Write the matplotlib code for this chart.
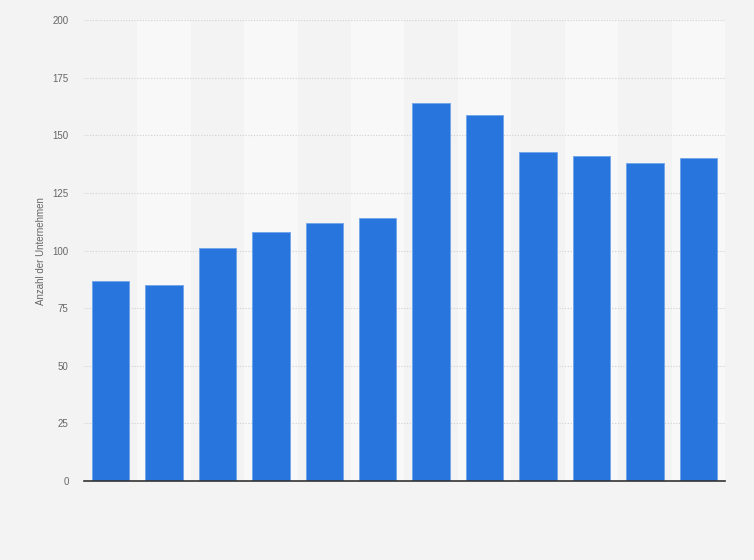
import numpy as np
import matplotlib
matplotlib.use("Agg")
import matplotlib.pyplot as plt

plt.rcParams["font.family"] = ["Liberation Sans", "DejaVu Sans"]

# data (x labels are not shown in it)
categories = list(range(1, 13))
values = [87, 85, 101, 108, 112, 114, 164, 159, 143, 141, 138, 140]
y_ticks = [0, 25, 50, 75, 100, 125, 150, 175, 200]
y_label = "Anzahl der Unternehmen"

BG = "#f3f3f3"
BAND = "#f8f8f8"
BAR = "#2876dd"

fig = plt.figure(figsize=(7.54, 5.6), dpi=100, facecolor=BG)
ax = fig.add_axes([0.1114, 0.141, 0.8501, 0.823])
ax.set_facecolor(BG)

x = np.arange(len(categories))

# alternating column bands
for i in x:
    if i % 2 == 1:
        ax.axvspan(i - 0.5, i + 0.5, color=BAND, zorder=0, lw=0)

ax.bar(x, values, width=0.7, color=BAR, edgecolor="#6fa3ea", linewidth=0.6, zorder=3)

ax.set_xlim(-0.5, len(categories) - 0.5)
ax.set_ylim(0, 200)
ax.set_yticks(y_ticks)
ax.set_yticklabels([str(t) for t in y_ticks])
ax.set_xticks(x)
ax.set_xticklabels([""] * len(categories))

ax.yaxis.grid(True, color="#d0d0d0", linestyle=(0, (1, 1.5)), linewidth=0.8, zorder=1)
ax.set_axisbelow(True)

for s in ["top", "right", "left"]:
    ax.spines[s].set_visible(False)
ax.spines["bottom"].set_color("#333333")
ax.spines["bottom"].set_linewidth(1.2)
ax.spines["bottom"].set_zorder(4)

ax.tick_params(axis="both", length=0)
ax.tick_params(axis="y", labelsize=7, labelcolor="#666666", pad=11)

ax.set_ylabel(y_label, fontsize=7, color="#666666", labelpad=5)

fig.savefig("out.png", dpi=100, facecolor=BG)
